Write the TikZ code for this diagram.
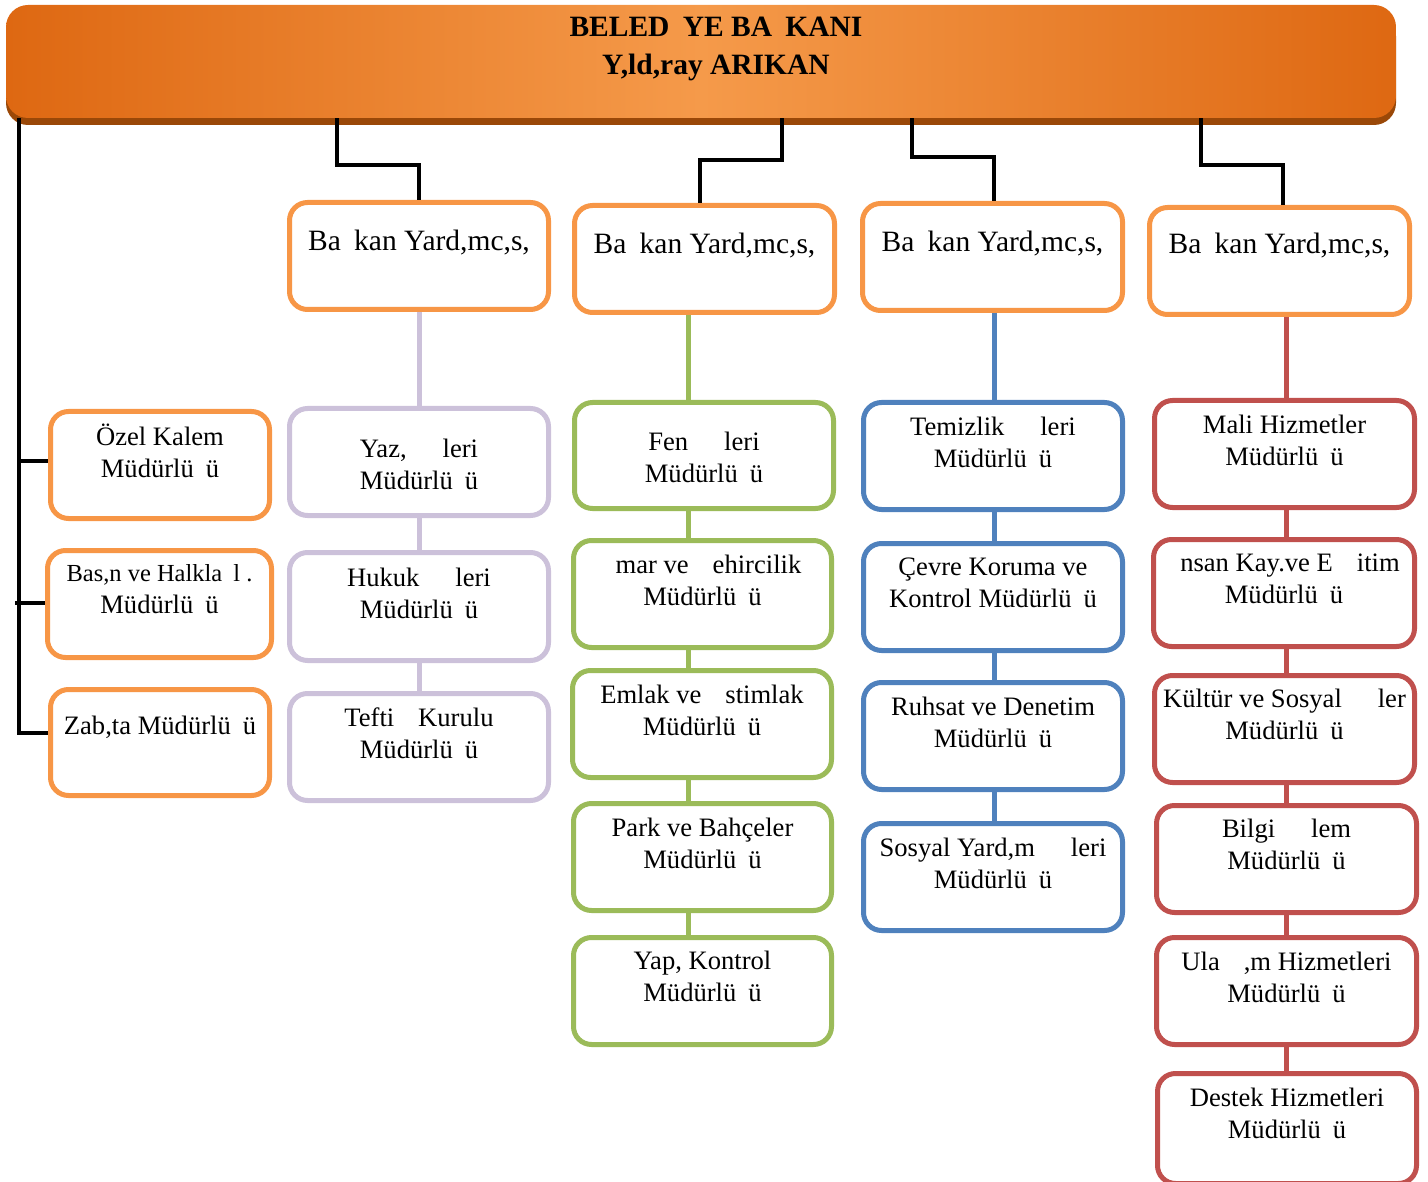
\documentclass[tikz,border=0pt]{standalone}
\usepackage{fontspec}
\setmainfont{Liberation Serif}
\definecolor{cOr}{HTML}{F79646}
\definecolor{cLav}{HTML}{CCC1DA}
\definecolor{cGr}{HTML}{9BBB59}
\definecolor{cBl}{HTML}{4F81BD}
\definecolor{cRd}{HTML}{C0504D}
\definecolor{hDark}{HTML}{DE6812}
\definecolor{hLight}{HTML}{F59A4A}
\definecolor{hShadow}{HTML}{9A4808}
\newcommand\gp{\hspace{0.45em}}
\newcommand\obox[8]{%
  \node[#2, minimum width={#5-#3-5}, minimum height={#6-#4-5}] (#1) at ({(#3+#5)/2},{(#4+#6)/2}) {};
  \node[lbl] (#1t) at ({(#3+#5)/2},#7) {#8};
}
\begin{document}
\begin{tikzpicture}[x=1pt,y=-1pt,
  box/.style={draw, line width=5pt, rounded corners=18pt, fill=white, inner sep=0pt},
  obx/.style={box, draw=cOr},
  lbx/.style={box, draw=cLav},
  gbx/.style={box, draw=cGr},
  bbx/.style={box, draw=cBl},
  rbx/.style={box, draw=cRd},
  lbl/.style={align=center, inner sep=0pt, font=\fontsize{26.6}{32}\selectfont},
  blk/.style={draw=black, line width=4pt},
  col/.style={line width=5pt}
]
\useasboundingbox (0,0) rectangle (1428,1182);
% header
\fill[hShadow, rounded corners=22pt] (6,14) rectangle (1396,125);
\node[inner sep=0pt, rounded corners=22pt, minimum width=1390, minimum height=113,
  left color=hDark, right color=hDark, middle color=hLight] (head) at (701,61.5) {};
\node[align=center, inner sep=0pt, font=\bfseries\fontsize{29.5}{38}\selectfont] (headt) at (716,49)
  {BELED\gp YE BA\gp KANI\\Y,ld,ray ARIKAN};
% deputy boxes
\obox{b1}{obx}{287}{200}{551}{312}{243}{{\fontsize{29.5}{32}\selectfont Ba\gp kan Yard,mc,s,}}
\obox{b2}{obx}{572}{203}{837}{315}{246}{{\fontsize{29.5}{32}\selectfont Ba\gp kan Yard,mc,s,}}
\obox{b3}{obx}{860}{201}{1125}{313}{244}{{\fontsize{29.5}{32}\selectfont Ba\gp kan Yard,mc,s,}}
\obox{b4}{obx}{1147}{205}{1412}{317}{246}{{\fontsize{29.5}{32}\selectfont Ba\gp kan Yard,mc,s,}}
% left column
\obox{l1}{obx}{48}{409}{272}{521}{451}{Özel Kalem\\Müdürlü\gp ü}
\obox{l2}{obx}{45}{548}{274}{660}{589}{{\fontsize{24.5}{32}\selectfont Bas,n ve Halkla\gp l .}\\Müdürlü\gp ü}
\obox{l3}{obx}{48}{687}{272}{798}{727}{Zab,ta Müdürlü\gp ü}
% column 1
\obox{c1a}{lbx}{287}{406}{551}{518}{464}{Yaz,\gp\gp\gp leri\\Müdürlü\gp ü}
\obox{c1b}{lbx}{287}{550}{551}{663}{593}{Hukuk\gp\gp\gp leri\\Müdürlü\gp ü}
\obox{c1c}{lbx}{287}{691}{551}{803}{733}{Tefti\gp\gp Kurulu\\Müdürlü\gp ü}
% column 2
\obox{c2a}{gbx}{572}{400}{836}{511}{457}{Fen\gp\gp\gp leri\\Müdürlü\gp ü}
\obox{c2b}{gbx}{571}{538}{834}{650}{580}{\gp mar ve\gp\gp ehircilik\\Müdürlü\gp ü}
\obox{c2c}{gbx}{570}{668}{834}{780}{710}{Emlak ve\gp\gp stimlak\\Müdürlü\gp ü}
\obox{c2d}{gbx}{571}{801}{834}{913}{843}{Park ve Bahçeler\\Müdürlü\gp ü}
\obox{c2e}{gbx}{571}{935}{834}{1047}{976}{Yap, Kontrol\\Müdürlü\gp ü}
% column 3
\obox{c3a}{bbx}{861}{400}{1125}{512}{442}{Temizlik\gp\gp\gp leri\\Müdürlü\gp ü}
\obox{c3b}{bbx}{861}{541}{1125}{653}{583}{Çevre Koruma ve\\Kontrol Müdürlü\gp ü}
\obox{c3c}{bbx}{861}{680}{1125}{792}{722}{Ruhsat ve Denetim\\Müdürlü\gp ü}
\obox{c3d}{bbx}{861}{821}{1125}{933}{863}{Sosyal Yard,m\gp\gp\gp leri\\Müdürlü\gp ü}
% column 4
\obox{c4a}{rbx}{1152}{398}{1417}{510}{440}{Mali Hizmetler\\Müdürlü\gp ü}
\obox{c4b}{rbx}{1151}{537}{1417}{649}{579}{\gp nsan Kay.ve E\gp\gp itim\\Müdürlü\gp ü}
\obox{c4c}{rbx}{1152}{673}{1417}{785}{714}{Kültür ve Sosyal\gp\gp\gp ler\\Müdürlü\gp ü}
\obox{c4d}{rbx}{1154}{803}{1419}{915}{844}{Bilgi\gp\gp\gp lem\\Müdürlü\gp ü}
\obox{c4e}{rbx}{1154}{935}{1419}{1047}{977}{Ula\gp\gp ,m Hizmetleri\\Müdürlü\gp ü}
\obox{c4f}{rbx}{1155}{1071}{1419}{1186}{1113}{Destek Hizmetleri\\Müdürlü\gp ü}
% black connectors
\draw[blk] (head.south -| 337,0) -- (337,165) -| (b1.north);
\draw[blk] (head.south -| 782,0) -- (782,160) -| ([xshift=-4.5pt]b2.north);
\draw[blk] (head.south -| 912,0) -- (912,157) -| ([xshift=1.5pt]b3.north);
\draw[blk] (head.south -| 1201,0) -- (1201,165) -| ([xshift=3.5pt]b4.north);
\draw[blk] (head.south -| 19,0) -- (19,733) -- (l3.west |- 0,733);
\draw[blk] (19,461) -- (l1.west |- 0,461);
\draw[blk] (15,603) -- (l2.west |- 0,603);
% coloured connectors
\draw[col, cLav] (b1.south -| 419,0) -- (c1a.north -| 419,0);
\draw[col, cLav] (c1a.south -| 419,0) -- (c1b.north -| 419,0);
\draw[col, cLav] (c1b.south -| 419,0) -- (c1c.north -| 419,0);
\draw[col, cGr] (b2.south -| 688,0) -- (c2a.north -| 688,0);
\draw[col, cGr] (c2a.south -| 688,0) -- (c2b.north -| 688,0);
\draw[col, cGr] (c2b.south -| 688,0) -- (c2c.north -| 688,0);
\draw[col, cGr] (c2c.south -| 688,0) -- (c2d.north -| 688,0);
\draw[col, cGr] (c2d.south -| 688,0) -- (c2e.north -| 688,0);
\draw[col, cBl] (b3.south -| 994,0) -- (c3a.north -| 994,0);
\draw[col, cBl] (c3a.south -| 994,0) -- (c3b.north -| 994,0);
\draw[col, cBl] (c3b.south -| 994,0) -- (c3c.north -| 994,0);
\draw[col, cBl] (c3c.south -| 994,0) -- (c3d.north -| 994,0);
\draw[col, cRd] (b4.south -| 1286,0) -- (c4a.north -| 1286,0);
\draw[col, cRd] (c4a.south -| 1286,0) -- (c4b.north -| 1286,0);
\draw[col, cRd] (c4b.south -| 1286,0) -- (c4c.north -| 1286,0);
\draw[col, cRd] (c4c.south -| 1286,0) -- (c4d.north -| 1286,0);
\draw[col, cRd] (c4d.south -| 1286,0) -- (c4e.north -| 1286,0);
\draw[col, cRd] (c4e.south -| 1286,0) -- (c4f.north -| 1286,0);
\end{tikzpicture}
\end{document}
